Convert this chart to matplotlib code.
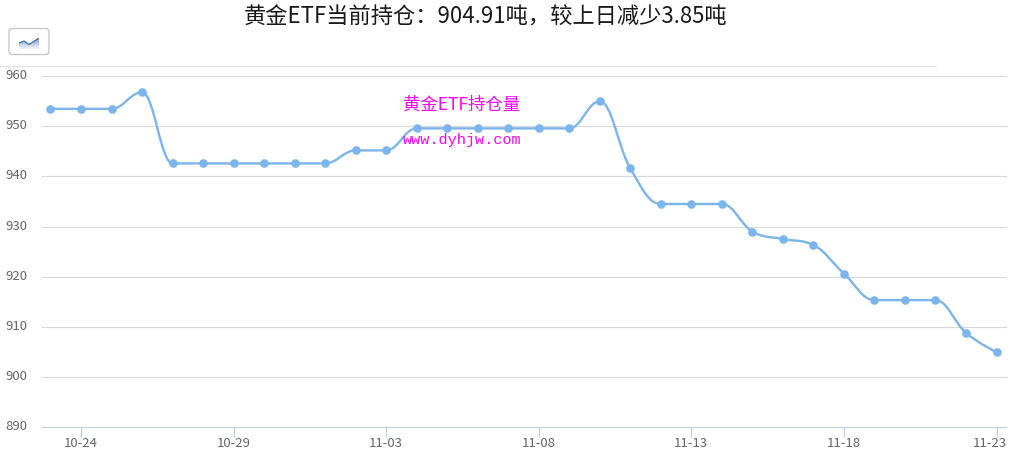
import numpy as np
import matplotlib
matplotlib.use("Agg")
import matplotlib.pyplot as plt
from matplotlib.path import Path
from matplotlib.patches import PathPatch, FancyBboxPatch
from matplotlib.lines import Line2D
from matplotlib.transforms import ScaledTranslation

W, H = 1011, 452

# data
dates = ['10-23', '10-24', '10-25', '10-26', '10-27', '10-28', '10-29', '10-30',
         '10-31', '11-01', '11-02', '11-03', '11-04', '11-05', '11-06', '11-07',
         '11-08', '11-09', '11-10', '11-11', '11-12', '11-13', '11-14', '11-15',
         '11-16', '11-17', '11-18', '11-19', '11-20', '11-21', '11-22', '11-23']
holdings = [953.5, 953.5, 953.5, 956.8, 942.6, 942.6, 942.6, 942.6,
            942.6, 942.6, 945.2, 945.2, 949.6, 949.6, 949.6, 949.6,
            949.6, 949.6, 955.0, 941.6, 934.5, 934.5, 934.5, 929.0,
            927.5, 926.3, 920.6, 915.3, 915.3, 915.3, 908.76, 904.91]
y_ticks = [890, 900, 910, 920, 930, 940, 950, 960]
title_text = '黄金ETF当前持仓：904.91吨，较上日减少3.85吨'


def spline_path(x, y):
    # same control points as a highcharts spline
    smoothing, denom = 1.5, 2.5
    verts = [(x[0], y[0])]
    codes = [Path.MOVETO]
    prev_right = (x[0], y[0])
    for i in range(1, len(x)):
        px, py = x[i], y[i]
        lx, ly = x[i - 1], y[i - 1]
        if i < len(x) - 1:
            nx, ny = x[i + 1], y[i + 1]
            left_x = (smoothing * px + lx) / denom
            left_y = (smoothing * py + ly) / denom
            right_x = (smoothing * px + nx) / denom
            right_y = (smoothing * py + ny) / denom
            corr = (right_y - left_y) * (right_x - px) / (right_x - left_x) + py - right_y
            left_y += corr
            right_y += corr
            if left_y > ly and left_y > py:
                left_y = max(ly, py)
                right_y = 2 * py - left_y
            elif left_y < ly and left_y < py:
                left_y = min(ly, py)
                right_y = 2 * py - left_y
            if right_y > ny and right_y > py:
                right_y = max(ny, py)
                left_y = 2 * py - right_y
            elif right_y < ny and right_y < py:
                right_y = min(ny, py)
                left_y = 2 * py - right_y
        else:
            left_x, left_y = px, py
            right_x, right_y = px, py
        verts += [prev_right, (left_x, left_y), (px, py)]
        codes += [Path.CURVE4, Path.CURVE4, Path.CURVE4]
        prev_right = (right_x, right_y)
    return Path(verts, codes)


plt.rcParams['font.family'] = ['Noto Sans CJK SC', 'DejaVu Sans']

fig = plt.figure(figsize=(W / 100, H / 100), dpi=100)

# plot area in pixels: left 42, right 1006
ax = fig.add_axes([42 / W, 1 - 427.8 / H, (1006 - 42) / W, (427.8 - 77.3) / H])
ax.set_ylim(890, 960)
x_idx = np.arange(len(dates))
ax.set_xlim(-8.5 / 30.52, 31 + 9.5 / 30.52)

ax.set_yticks(y_ticks)
ax.set_xticks(x_idx[1::5])
ax.set_xticklabels(dates[1::5])
ax.grid(axis='y', color='#D8D8D8', linewidth=0.8, clip_on=False)
ax.set_axisbelow(True)
for s in ['top', 'right', 'left']:
    ax.spines[s].set_visible(False)
ax.spines['bottom'].set_color('#C0D0E0')
ax.spines['bottom'].set_linewidth(0.8)
ax.tick_params(axis='x', length=7, width=0.8, color='#C0D0E0', labelcolor='#666666',
               labelsize=9.5, pad=-0.5)
ax.tick_params(axis='y', length=0, labelcolor='#666666', labelsize=9.5, pad=10.8)
for t in ax.yaxis.get_major_ticks():
    t.label1.set_verticalalignment('center')
    t.label1.set_transform(t.label1.get_transform() +
                           ScaledTranslation(0, 1.5 / 100, fig.dpi_scale_trans))
# last date label is pulled in so it stays inside the picture
last = ax.xaxis.get_major_ticks()[-1].label1
last.set_transform(last.get_transform() + ScaledTranslation(-7 / 100, 0, fig.dpi_scale_trans))

ax.add_patch(PathPatch(spline_path(x_idx, holdings), fill=False, edgecolor='#7CB5EC',
                       linewidth=1.7, clip_on=False))
ax.plot(x_idx, holdings, linestyle='none', marker='o', markersize=6.2,
        color='#7CB5EC', markeredgewidth=0, clip_on=False)

# title and watermark
fig.text(485.5 / W, 1 - 17.5 / H, title_text, ha='center', va='center', fontsize=16,
         color='#1A1A1A')
fig.text(462 / W, 1 - 104.5 / H, '黄金ETF持仓量', ha='center', va='center', fontsize=12.5,
         color='#FF00FF', zorder=5)
fig.text(462 / W, 1 - 140 / H, 'www.dyhjw.com', ha='center', va='center', fontsize=11,
         color='#FF00FF', family=['Liberation Mono', 'DejaVu Sans'], zorder=5)

# line above the plot
fig.add_artist(Line2D([0, 936 / W], [1 - 66.5 / H] * 2, color='#E4E4E4', linewidth=0.9))

# chart type button
fig.add_artist(FancyBboxPatch((9 / W, 1 - 55.5 / H), 40 / W, 26 / H,
                              boxstyle='round,pad=0,rounding_size=0.003',
                              mutation_aspect=W / H, transform=fig.transFigure,
                              facecolor='white', edgecolor='#C4C4C4', linewidth=0.9))
icon = fig.add_axes([19 / W, 1 - 50 / H, 20 / W, 11 / H], zorder=3)
icon.set_xlim(0, 20)
icon.set_ylim(0, 11)
icon.axis('off')
icon_x = [0, 5, 10, 20]
icon_y = [6, 8, 4.5, 11]
grad = np.linspace(0, 1, 32).reshape(-1, 1)
img = icon.imshow(grad, extent=(0, 20, 0, 11), aspect='auto', vmin=0, vmax=1.1,
                  cmap=matplotlib.colors.LinearSegmentedColormap.from_list(
                      'btn', ['#7A9CD0', '#FFFFFF']))
clip = PathPatch(Path(list(zip(icon_x, icon_y)) + [(20, 0), (0, 0), (0, 6)]),
                 transform=icon.transData, facecolor='none', edgecolor='none')
icon.add_patch(clip)
img.set_clip_path(clip)
icon.plot(icon_x, icon_y, color='#4572A7', linewidth=0.9)

fig.savefig('out.png', dpi=100)
